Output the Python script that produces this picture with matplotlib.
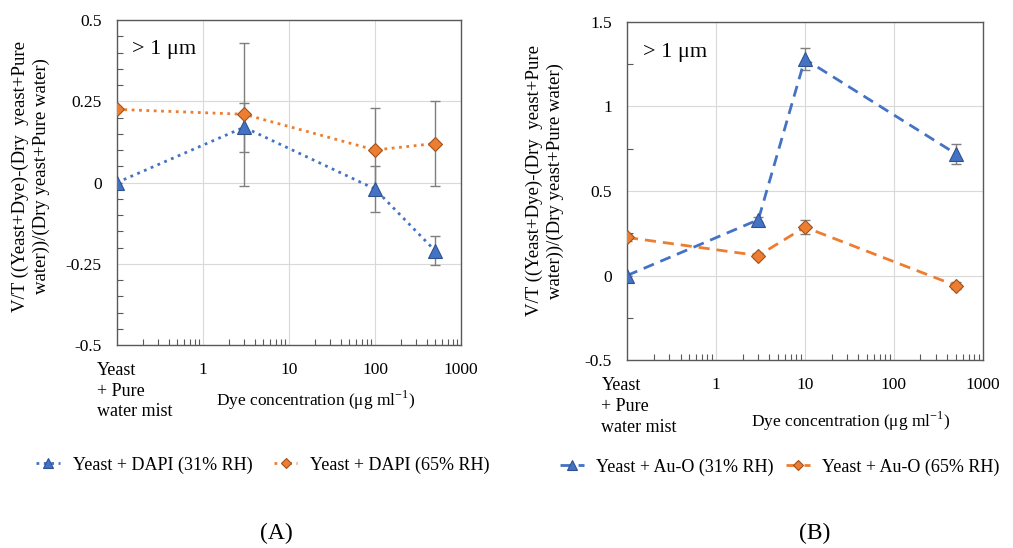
import matplotlib
matplotlib.use("Agg")
import matplotlib.pyplot as plt
from matplotlib.ticker import MultipleLocator, LogLocator, NullFormatter

plt.rcParams['font.family'] = ['Liberation Serif', 'DejaVu Serif']
plt.rcParams['mathtext.fontset'] = 'custom'
plt.rcParams['mathtext.rm'] = 'Liberation Serif'

# Daten
category_label = "Yeast\n+ Pure\nwater mist"
xtick_values = [1, 10, 100, 1000]
xtick_labels = ["1", "10", "100", "1000"]

# Panel A: DAPI
dapi_x = [0.1, 3, 100, 500]
dapi_31 = [0.0, 0.17, -0.02, -0.21]
dapi_31_err = [0.0, 0.075, 0.07, 0.045]
dapi_65 = [0.225, 0.21, 0.10, 0.12]
dapi_65_err = [0.0, 0.22, 0.13, 0.13]

# Panel B: Au-O
auo_x = [0.1, 3, 10, 500]
auo_31 = [0.0, 0.33, 1.28, 0.72]
auo_31_err = [0.0, 0.015, 0.065, 0.06]
auo_65 = [0.225, 0.118, 0.286, -0.06]
auo_65_err = [0.02, 0.015, 0.043, 0.02]

blue = "#4472C4"
orange = "#ED7D31"
grey = "#595959"
ylabel_text = "V/T ((Yeast+Dye)-(Dry  yeast+Pure\nwater))/(Dry yeast+Pure water)"
xlabel_text = "Dye concentration (\u03bcg ml$^{-1}$)"

fig = plt.figure(figsize=(10.13, 5.48), dpi=100)


def draw_panel(ax, x, y31, e31, y65, e65, ls, ylim, major, minor, xlabel_pos, cat_dx):
    lines = []
    for y, e, col, edge, mk, ms in [(y31, e31, blue, "#2F528F", "^", 9.5),
                                    (y65, e65, orange, "#A0521C", "D", 7)]:
        ax.errorbar(x, y, yerr=e, fmt="none", ecolor="#7f7f7f", elinewidth=1,
                    capsize=3.5, capthick=1, zorder=2)
        ln, = ax.plot(x, y, linestyle=ls, color=col, lw=2, marker=mk, ms=ms,
                      markerfacecolor=col, markeredgecolor=edge, markeredgewidth=0.8,
                      zorder=3)
        lines.append(ln)
    ax.set_xscale("log")
    ax.set_xlim(0.1, 1000)
    ax.set_ylim(*ylim)
    ax.set_xticks(xtick_values)
    ax.set_xticklabels(xtick_labels)
    ax.xaxis.set_minor_locator(LogLocator(base=10, subs=range(2, 10)))
    ax.xaxis.set_minor_formatter(NullFormatter())
    ax.yaxis.set_major_locator(MultipleLocator(major))
    ax.yaxis.set_minor_locator(MultipleLocator(minor))
    ax.set_yticks([v for v in ax.get_yticks() if ylim[0] - 1e-9 <= v <= ylim[1] + 1e-9])
    ax.set_yticklabels([f"{v:g}" for v in ax.get_yticks()])
    ax.grid(True, which="major", color="#d9d9d9", lw=0.8)
    ax.set_axisbelow(True)
    ax.tick_params(which="both", direction="in", length=4, width=0.8, color=grey,
                   labelsize=12.5, top=False, right=False)
    ax.tick_params(axis="x", which="major", length=0, pad=12)
    ax.tick_params(axis="y", which="major", length=0, pad=11)
    for s in ax.spines.values():
        s.set_color(grey)
        s.set_linewidth(1)
    ax.annotate(category_label, xy=(0.1, 0), xycoords=("data", "axes fraction"),
                xytext=(cat_dx, -12), textcoords="offset points", ha="left", va="top",
                fontsize=13, linespacing=1.3)
    ax.text(xlabel_pos[0], xlabel_pos[1], xlabel_text, transform=ax.transAxes,
            ha="center", va="center", fontsize=12.5)
    ax.text(0.045, 0.91, "> 1 \u03bcm", transform=ax.transAxes, ha="left",
            va="center", fontsize=16)
    return lines


axA = fig.add_axes([0.1155, 0.3704, 0.3396, 0.5931])
linesA = draw_panel(axA, dapi_x, dapi_31, dapi_31_err, dapi_65, dapi_65_err,
                    ":", (-0.5, 0.5), 0.25, 0.05, (0.576, -0.17), -14.4)

axB = fig.add_axes([0.619, 0.343, 0.351, 0.617])
linesB = draw_panel(axB, auo_x, auo_31, auo_31_err, auo_65, auo_65_err,
                    (0, (4, 2.5)), (-0.5, 1.5), 0.5, 0.25, (0.63, -0.18), -18.5)

fig.text(31 / 1013, 1 - 176 / 548, ylabel_text, rotation=90, ha="center",
         va="center", fontsize=13.5, multialignment="center", linespacing=1.3)
fig.text(545 / 1013, 1 - 181 / 548, ylabel_text, rotation=90, ha="center",
         va="center", fontsize=13.5, multialignment="center", linespacing=1.3)

fig.legend(linesA, ["Yeast + DAPI (31% RH)", "Yeast + DAPI (65% RH)"],
           loc="center", bbox_to_anchor=(263 / 1013, 1 - 465 / 548), ncol=2,
           frameon=False, fontsize=13, handlelength=1.3, handletextpad=0.7,
           columnspacing=1.2, markerscale=0.8)
fig.legend(linesB, ["Yeast + Au-O (31% RH)", "Yeast + Au-O (65% RH)"],
           loc="center", bbox_to_anchor=(780 / 1013, 1 - 467 / 548), ncol=2,
           frameon=False, fontsize=13, handlelength=1.3, handletextpad=0.7,
           columnspacing=0.7, markerscale=0.8)

fig.text(276 / 1013, 1 - 533 / 548, "(A)", ha="center", va="center", fontsize=17)
fig.text(815 / 1013, 1 - 533 / 548, "(B)", ha="center", va="center", fontsize=17)

fig.savefig("out.png", dpi=100)
